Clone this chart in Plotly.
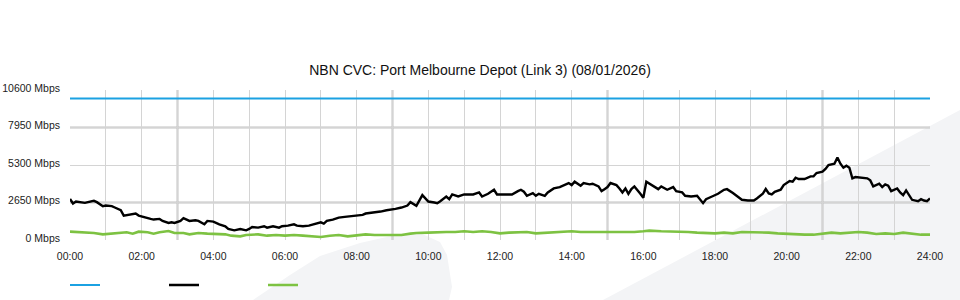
import plotly.graph_objects as go

# ---------------- data ----------------
capacity_times = ["00:00", "24:00"]
capacity_vals = [10000, 10000]

traffic_times = [
    "00:00", "00:05", "00:10", "00:20", "00:25", "00:30", "00:40", "00:45", "00:50", "00:55",
    "01:00", "01:10", "01:15", "01:25", "01:30", "01:40", "01:50", "01:55", "02:05", "02:15",
    "02:20", "02:30", "02:35", "02:45", "02:50", "02:55", "03:05", "03:10", "03:20", "03:30",
    "03:35", "03:45", "03:50", "04:00", "04:10", "04:20", "04:25", "04:35", "04:45", "04:55",
    "05:00", "05:05", "05:15", "05:25", "05:30", "05:40", "05:50", "05:55", "06:05", "06:15",
    "06:20", "06:30", "06:40", "06:45", "06:55", "07:00", "07:05", "07:10", "07:20", "07:30",
    "07:40", "07:50", "08:00", "08:10", "08:15", "08:25", "08:35", "08:40", "08:50", "09:00",
    "09:05", "09:15", "09:25", "09:30", "09:35", "09:40", "09:50", "10:00", "10:10", "10:15",
    "10:20", "10:30", "10:35", "10:40", "10:50", "11:00", "11:05", "11:15", "11:25", "11:30",
    "11:40", "11:50", "11:55", "12:05", "12:10", "12:20", "12:30", "12:35", "12:40", "12:45",
    "12:55", "13:00", "13:05", "13:15", "13:20", "13:30", "13:40", "13:45", "13:55", "14:00",
    "14:05", "14:15", "14:20", "14:30", "14:35", "14:45", "14:50", "14:55", "15:00", "15:05",
    "15:10", "15:15", "15:20", "15:25", "15:30", "15:35", "15:40", "15:45", "15:55", "16:00",
    "16:05", "16:15", "16:25", "16:30", "16:40", "16:50", "16:55", "17:05", "17:10", "17:20",
    "17:30", "17:40", "17:45", "17:55", "18:05", "18:15", "18:20", "18:30", "18:40", "18:45",
    "18:55", "19:05", "19:10", "19:20", "19:25", "19:30", "19:35", "19:40", "19:50", "19:55",
    "20:05", "20:10", "20:15", "20:20", "20:30", "20:40", "20:45", "20:50", "21:00", "21:05",
    "21:10", "21:20", "21:25", "21:30", "21:35", "21:40", "21:45", "21:50", "21:55", "22:05",
    "22:15", "22:20", "22:25", "22:35", "22:40", "22:45", "22:50", "22:55", "23:05", "23:10",
    "23:15", "23:20", "23:25", "23:30", "23:40", "23:45", "23:50", "23:55", "24:00",
]
traffic_vals = [
    2900, 2580, 2720, 2675, 2625, 2675, 2770, 2675, 2530, 2390,
    2435, 2390, 2295, 2105, 1725, 1820, 1870, 1725, 1585, 1490,
    1445, 1490, 1350, 1205, 1250, 1205, 1350, 1540, 1350, 1395,
    1350, 1110, 1350, 1300, 1110, 970, 780, 685, 780, 685,
    780, 920, 875, 970, 875, 970, 875, 970, 1015, 1110,
    1015, 970, 1015, 1065, 1205, 1250, 1160, 1350, 1445, 1585,
    1630, 1680, 1725, 1775, 1870, 1915, 1965, 2010, 2105, 2155,
    2200, 2295, 2435, 2675, 2530, 2415, 3170, 2720, 2650, 2605,
    2745, 3075, 2885, 3220, 3075, 3220, 3220, 3220, 3360, 3075,
    3265, 3550, 3220, 3220, 3220, 3220, 3455, 3550, 3410, 3125,
    3315, 3125, 3265, 3125, 3360, 3645, 3740, 3835, 4025, 3880,
    4120, 3835, 4025, 3930, 3975, 3785, 3455, 3595, 3740, 4025,
    3930, 3880, 3645, 3360, 3645, 3265, 3595, 3785, 3265, 2980,
    4120, 3835, 3595, 3785, 3550, 3740, 3455, 3360, 3125, 3075,
    3125, 2605, 2885, 3075, 3265, 3550, 3595, 3315, 2980, 2840,
    2790, 2790, 2935, 3265, 3600, 3290, 3220, 3410, 3550, 3880,
    4165, 4120, 4400, 4310, 4310, 4495, 4495, 4735, 4830, 5020,
    5300, 5395, 5825, 5395, 5110, 5255, 5110, 4355, 4450, 4400,
    4355, 4215, 3785, 3975, 3740, 3930, 3835, 3455, 3645, 3360,
    3170, 3505, 3125, 2840, 2745, 2885, 2790, 2745, 2935,
]

other_times = [
    "00:00", "00:20", "00:40", "00:55", "01:10", "01:20", "01:35", "01:45", "01:55", "02:10",
    "02:20", "02:30", "02:45", "02:55", "03:10", "03:20", "03:35", "03:50", "04:05", "04:20",
    "04:30", "04:45", "04:55", "05:15", "05:30", "05:45", "06:00", "06:15", "06:30", "06:50",
    "07:00", "07:15", "07:30", "07:45", "08:00", "08:15", "08:30", "08:45", "09:00", "09:15",
    "09:30", "09:40", "10:00", "10:15", "10:30", "10:45", "11:00", "11:15", "11:30", "11:45",
    "12:00", "12:15", "12:30", "12:45", "13:00", "13:15", "13:30", "13:45", "14:00", "14:15",
    "14:30", "14:45", "15:00", "15:15", "15:30", "15:45", "16:00", "16:10", "16:30", "16:45",
    "17:00", "17:15", "17:30", "17:45", "18:00", "18:15", "18:30", "18:45", "19:00", "19:15",
    "19:30", "19:45", "20:00", "20:15", "20:30", "20:45", "21:00", "21:15", "21:30", "21:45",
    "22:00", "22:15", "22:30", "22:45", "23:00", "23:15", "23:30", "23:45", "24:00",
]
other_vals = [
    590, 543, 495, 400, 448, 495, 543, 448, 590, 543,
    448, 543, 637, 495, 495, 400, 495, 448, 448, 400,
    306, 258, 353, 400, 306, 353, 306, 353, 306, 258,
    211, 306, 353, 258, 353, 400, 353, 353, 353, 353,
    448, 495, 519, 566, 566, 566, 614, 566, 614, 566,
    471, 519, 566, 566, 471, 519, 566, 566, 614, 566,
    566, 566, 519, 566, 519, 566, 614, 660, 614, 614,
    566, 566, 519, 471, 471, 519, 471, 566, 566, 566,
    519, 471, 424, 424, 377, 377, 424, 519, 471, 519,
    566, 519, 424, 471, 424, 519, 424, 377, 377,
]

y_tick_vals = [0, 2650, 5300, 7950, 10600]
y_tick_text = ["0 Mbps", "2650 Mbps", "5300 Mbps", "7950 Mbps", "10600 Mbps"]
x_tick_text = ["00:00", "02:00", "04:00", "06:00", "08:00", "10:00", "12:00",
               "14:00", "16:00", "18:00", "20:00", "22:00", "24:00"]
heavy_hour_lines = ["03:00", "09:00", "15:00", "21:00"]
heavy_y_lines = [2650, 7950]

title_text = "NBN CVC: Port Melbourne Depot (Link 3) (08/01/2026)"


def to_min(s):
    h, m = s.split(":")
    return int(h) * 60 + int(m)


x_tick_vals = [to_min(t) for t in x_tick_text]

fig = go.Figure()
fig.add_trace(go.Scatter(x=[to_min(t) for t in capacity_times], y=capacity_vals,
                         mode="lines", name=" ", line=dict(color="#1ba1e2", width=2.2)))
fig.add_trace(go.Scatter(x=[to_min(t) for t in traffic_times], y=traffic_vals,
                         mode="lines", name=" ", line=dict(color="#000000", width=2.4)))
fig.add_trace(go.Scatter(x=[to_min(t) for t in other_times], y=other_vals,
                         mode="lines", name=" ", line=dict(color="#7dc242", width=2.6)))

shapes = []


def px2paper(px, py):
    return (px - 70) / 860.0, (240 - py) / 150.0


tri = [(603, 300), (960, 110), (960, 300)]
pts = [px2paper(*p) for p in tri]
shapes.append(dict(type="path", xref="paper", yref="paper", layer="below",
                   path="M " + " L ".join(f"{a:.4f},{b:.4f}" for a, b in pts) + " Z",
                   fillcolor="#f3f4f6", line=dict(width=0)))
swoosh = [(253, 300), (290, 275), (320, 256), (360, 243), (400, 234), (420, 233),
          (440, 242), (447, 255), (452, 287), (449, 300)]
pts = [px2paper(*p) for p in swoosh]
shapes.append(dict(type="path", xref="paper", yref="paper", layer="below",
                   path="M " + " L ".join(f"{a:.4f},{b:.4f}" for a, b in pts) + " Z",
                   fillcolor="#f3f4f6", line=dict(width=0)))

for t in heavy_hour_lines:
    shapes.append(dict(type="line", xref="x", yref="paper", x0=to_min(t), x1=to_min(t),
                       y0=0, y1=1, layer="between", line=dict(color="#c2c2c2", width=2)))
for v in heavy_y_lines:
    shapes.append(dict(type="line", xref="paper", yref="y", x0=0, x1=1, y0=v, y1=v,
                       layer="between", line=dict(color="#c2c2c2", width=2)))

fig.update_layout(
    width=960, height=300,
    margin=dict(l=70, r=30, t=90, b=60, autoexpand=False),
    paper_bgcolor="white",
    plot_bgcolor="rgba(0,0,0,0)",
    font=dict(family="Liberation Sans, Arial, sans-serif", size=10.5, color="#222"),
    title=dict(text=title_text, x=0.5, xanchor="center", xref="container",
               y=1 - 70 / 300, yanchor="middle", yref="container",
               font=dict(size=14, color="#111")),
    showlegend=True,
    legend=dict(orientation="h", x=-5 / 860, xanchor="left", y=-0.3, yanchor="middle",
                entrywidth=54, entrywidthmode="pixels", bgcolor="rgba(0,0,0,0)",
                font=dict(size=11)),
    shapes=shapes,
    xaxis=dict(range=[0, 1440], tickmode="array", tickvals=x_tick_vals, ticktext=x_tick_text,
               showgrid=True, gridcolor="#d4d4d4", gridwidth=1,
               minor=dict(dtick=60, tick0=0, showgrid=True, gridcolor="#d4d4d4", gridwidth=1),
               zeroline=False, showline=False, ticks="", ticklabelstandoff=8,
               automargin=False, fixedrange=True),
    yaxis=dict(range=[0, 10600], tickmode="array", tickvals=y_tick_vals, ticktext=y_tick_text,
               showgrid=True, gridcolor="#d4d4d4", gridwidth=1,
               zeroline=False, showline=False, ticks="", ticklabelstandoff=9,
               ticklabelshift=-2,
               automargin=False, fixedrange=True),
)

fig.write_html("out.html")
